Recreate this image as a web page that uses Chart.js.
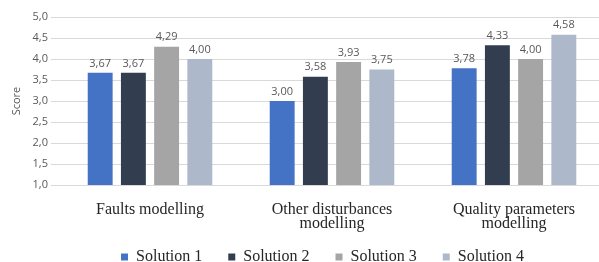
<!DOCTYPE html>
<html>
<head>
<meta charset="utf-8">
<script src="https://cdn.jsdelivr.net/npm/chart.js@4.4.0/dist/chart.umd.min.js"></script>
<style>
    html, body { margin: 0; padding: 0; background: #fff; overflow: hidden; }
    #wrap { width: 605px; height: 285px; position: relative; }
</style>
</head>
<body>
<div id="wrap"><canvas id="grafico"></canvas></div>
<script>
const categorias = [["Faults modelling"], ["Other disturbances", "modelling"], ["Quality parameters", "modelling"]]
const solucoes = ["Solution 1", "Solution 2", "Solution 3", "Solution 4"]
const solucao1 = [3.67, 3.00, 3.78]
const solucao2 = [3.67, 3.58, 4.33]
const solucao3 = [4.29, 3.93, 4.00]
const solucao4 = [4.00, 3.75, 4.58]
const cores = ["#4472C4", "#323E4F", "#A5A5A5", "#ADB9CA"]

const virgula = (v, casas) => v.toFixed(casas).replace(".", ",")

// escreve o valor em cima de cada barra
const rotulos = {
    id: "rotulos",
    afterLayout(chart) {
        // legenda mais pra direita e mais perto dos rotulos, como no original
        chart.legend.left += 20
        chart.legend.right += 20
        chart.legend.top -= 10
        chart.legend.bottom -= 10
    },
    afterDatasetsDraw(chart) {
        const ctx = chart.ctx
        ctx.save()
        ctx.font = "11px 'Open Sans', sans-serif"
        ctx.fillStyle = "#595959"
        ctx.textAlign = "center"
        ctx.textBaseline = "bottom"
        chart.data.datasets.forEach((ds, i) => {
            chart.getDatasetMeta(i).data.forEach((bar, j) => {
                ctx.fillText(virgula(ds.data[j], 2), bar.x, bar.y - 4)
            })
        })
        ctx.restore()
    }
}

const grafico = document.getElementById("grafico")
new Chart(grafico, {
    type: "bar",
    data: {
        labels: categorias,
        datasets: [solucao1, solucao2, solucao3, solucao4].map((d, i) => ({
            label: solucoes[i],
            data: d,
            backgroundColor: cores[i],
            categoryPercentage: 0.73,
            barPercentage: 0.75
        }))
    },
    options: {
        responsive: true,
        maintainAspectRatio: false,
        animation: false,
        layout: { padding: { top: 17, right: 0, left: 0, bottom: 0 } },
        plugins: {
            tooltip: { enabled: false },
            legend: {
                position: "bottom",
                labels: {
                    boxWidth: 7,
                    boxHeight: 7,
                    padding: 26,
                    color: "#262626",
                    font: { family: "'Liberation Serif', serif", size: 16 }
                }
            }
        },
        scales: {
            x: {
                afterFit: (s) => { s.height = 48 },
                grid: { display: false, drawTicks: false },
                border: { display: false },
                ticks: {
                    padding: 18,
                    color: "#262626",
                    font: { family: "'Liberation Serif', serif", size: 16, lineHeight: 0.85 },
                    maxRotation: 0
                }
            },
            y: {
                min: 1,
                max: 5,
                afterFit: (s) => { s.width = 59 },
                border: { display: false },
                grid: { color: "#D9D9D9" },
                ticks: {
                    stepSize: 0.5,
                    color: "#595959",
                    font: { family: "'Open Sans', sans-serif", size: 11 },
                    callback: (v) => virgula(v, 1)
                },
                title: {
                    display: true,
                    text: "Score",
                    color: "#595959",
                    padding: { top: 10, bottom: 0 },
                    font: { family: "'Open Sans', sans-serif", size: 11 }
                }
            }
        }
    },
    plugins: [rotulos]
})
</script>
</body>
</html>
